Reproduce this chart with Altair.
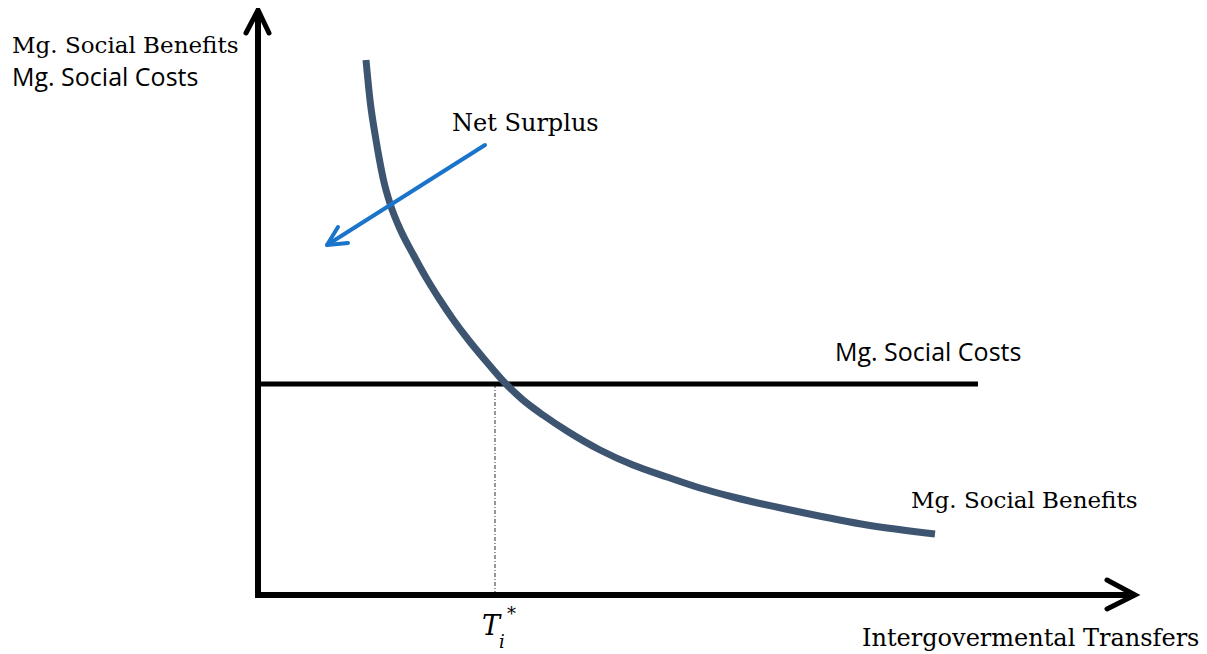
import altair as alt
import pandas as pd

# ---- data (diagram units: origin at the axes' corner) ----
# Marginal social benefits curve
msb_x = [10.8, 11.2, 11.8, 12.15, 12.55, 13.25, 14.25, 15.55, 16.95, 18.2, 19.55,
         21.05, 22.7, 24.7, 26.5, 28.5, 30.9, 34.2, 37.5, 40.9, 44.2, 47.5, 54.2, 60.9, 67.7]
msb_y = [53.5, 49.5, 45.5, 43.5, 41.5, 39.0, 36.5, 34.0, 31.5, 29.5, 27.5,
         25.5, 23.5, 21.2, 19.5, 18.0, 16.4, 14.5, 13.0, 11.8, 10.7, 9.8, 8.3, 7.0, 6.1]

# Marginal social costs (flat)
msc_level = 21.1
msc_x = [0.0, 72.0]

# Optimum transfer level
t_star = 23.7

# Axis extents
x_axis_end = 87.7
y_axis_end = 58.5

# Net surplus arrow (tail -> tip)
arrow_x = [22.7, 6.9]
arrow_y = [45.0, 35.0]

# Text labels
serif_texts = ["Mg. Social Benefits", "Net Surplus", "Mg. Social Benefits",
               "Intergovermental Transfers"]
serif_x = [-24.6, 19.4, 65.3, 60.4]
serif_y = [54.25, 46.4, 8.7, -5.1]
serif_sizes = [23, 24, 23, 24]

sans_texts = ["Mg. Social Costs", "Mg. Social Costs"]
sans_x = [-24.6, 57.7]
sans_y = [50.9, 23.4]

# ---- scales ----
xs = alt.Scale(domain=[-25, 94.1], nice=False, zero=False)
ys = alt.Scale(domain=[-5.9, 58.7], nice=False, zero=False)


def enc(**kw):
    base = dict(
        x=alt.X("x:Q", scale=xs, axis=None),
        y=alt.Y("y:Q", scale=ys, axis=None),
    )
    base.update(kw)
    return base


# ---- geometry built from the values above ----
def polyline(seg, xs_, ys_):
    return [dict(seg=seg, order=i, x=a, y=b) for i, (a, b) in enumerate(zip(xs_, ys_))]


axes_rows = []
axes_rows += polyline("yaxis", [0, 0], [-0.25, y_axis_end])
axes_rows += polyline("xaxis", [-0.3, x_axis_end], [0, 0])
axes_df = pd.DataFrame(axes_rows)

heads_rows = []
heads_rows += polyline("yhead", [-1.2, 0, 1.1], [y_axis_end - 2.3, y_axis_end, y_axis_end - 2.3])
heads_rows += polyline("xhead", [x_axis_end - 2.8, x_axis_end, x_axis_end - 2.8], [1.5, 0, -1.4])
heads_df = pd.DataFrame(heads_rows)

msc_df = pd.DataFrame(polyline("msc", msc_x, [msc_level, msc_level]))
tline_df = pd.DataFrame(polyline("t", [t_star, t_star], [0, msc_level]))
msb_df = pd.DataFrame(polyline("msb", msb_x, msb_y))

arrow_rows = polyline("shaft", arrow_x, arrow_y)
tipx, tipy = arrow_x[1], arrow_y[1]
arrow_rows += polyline("ahead", [tipx + 1.1, tipx, tipx + 2.1], [tipy + 1.8, tipy, tipy + 0.2])
arrow_df = pd.DataFrame(arrow_rows)

serif_df = pd.DataFrame(dict(text=serif_texts, x=serif_x, y=serif_y, size=serif_sizes))
sans_df = pd.DataFrame(dict(text=sans_texts, x=sans_x, y=sans_y))

tstar_df = pd.DataFrame(dict(text=["T"], x=[22.4], y=[-4.0]))
sub_df = pd.DataFrame(dict(text=["i"], x=[24.1], y=[-5.3]))
sup_df = pd.DataFrame(dict(text=["*"], x=[24.9], y=[-2.5]))

# ---- layers ----
axes = alt.Chart(axes_df).mark_line(color="black", strokeWidth=6, strokeCap="butt").encode(
    **enc(detail="seg:N", order="order:Q"))
heads = alt.Chart(heads_df).mark_line(color="black", strokeWidth=5, strokeCap="round",
                                      strokeJoin="miter").encode(
    **enc(detail="seg:N", order="order:Q"))
msc = alt.Chart(msc_df).mark_line(color="black", strokeWidth=5, strokeCap="butt").encode(
    **enc(order="order:Q"))
tline = alt.Chart(tline_df).mark_line(color="#444444", strokeWidth=1.1,
                                      strokeDash=[4, 2, 1, 2]).encode(**enc(order="order:Q"))
msb = alt.Chart(msb_df).mark_line(color="#3d5570", strokeWidth=7, strokeCap="butt",
                                  interpolate="monotone").encode(**enc(order="order:Q"))
arrow = alt.Chart(arrow_df).mark_line(color="#1b74cc", strokeWidth=4, strokeCap="round",
                                      strokeJoin="round").encode(
    **enc(detail="seg:N", order="order:Q"))

serif_layers = []
for sz in sorted(set(serif_sizes)):
    serif_layers.append(
        alt.Chart(serif_df[serif_df["size"] == sz]).mark_text(
            font="DejaVu Serif", fontSize=sz, align="left", baseline="alphabetic",
            color="black").encode(**enc(text="text:N")))

sans = alt.Chart(sans_df).mark_text(font="Open Sans", fontSize=25, align="left",
                                    baseline="alphabetic", color="black").encode(
    **enc(text="text:N"))

tstar = alt.Chart(tstar_df).mark_text(font="DejaVu Serif", fontStyle="italic", fontSize=27,
                                      align="left", baseline="alphabetic",
                                      color="black").encode(**enc(text="text:N"))
sub = alt.Chart(sub_df).mark_text(font="DejaVu Serif", fontStyle="italic", fontSize=18,
                                  align="left", baseline="alphabetic",
                                  color="black").encode(**enc(text="text:N"))
sup = alt.Chart(sup_df).mark_text(font="DejaVu Serif", fontSize=18, align="left",
                                  baseline="alphabetic", color="black").encode(
    **enc(text="text:N"))

chart = alt.layer(
    tline, msc, msb, arrow, axes, heads, *serif_layers, sans, tstar, sub, sup
).properties(
    width=1191, height=646, autosize=alt.AutoSizeParams(type="none"), padding=0,
    background="white",
).configure_view(stroke=None)

chart.save("out.html", embed_options={"renderer": "svg", "actions": False})
